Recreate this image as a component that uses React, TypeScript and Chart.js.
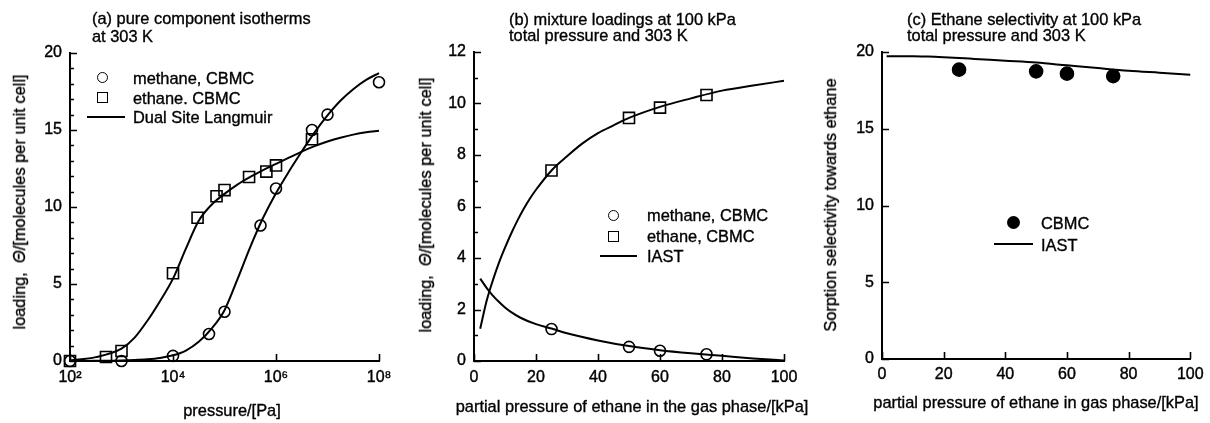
import React, { useEffect, useRef } from 'react';
import { Chart, registerables } from 'chart.js';

Chart.register(...registerables);

const FONT = '"Liberation Sans", Arial, Helvetica, sans-serif';

// ---------- Panel (a): pure component isotherms ----------
const aMethaneP = [1e2, 1e3, 1e4, 5e4, 1e5, 5e5, 1e6, 5e6, 1e7, 1e8];
const aMethaneQ = [0, 0, 0.33, 1.75, 3.2, 8.8, 11.2, 15.0, 16.0, 18.1];
const aEthaneP = [1e2, 5e2, 1e3, 1e4, 3e4, 7e4, 1e5, 3e5, 6.5e5, 1e6, 5e6];
const aEthaneQ = [0, 0.26, 0.65, 5.7, 9.3, 10.7, 11.1, 11.95, 12.3, 12.7, 14.4];
const aDslP = [1e2, 3.16e2, 1e3, 1.78e3, 3.16e3, 5.62e3, 1e4, 1.78e4, 3.16e4, 5.62e4, 1e5, 1.78e5, 3.16e5, 5.62e5, 1e6, 1.78e6, 3.16e6, 5.62e6, 1e7, 1.78e7, 3.16e7, 5.62e7, 1e8];
const aDslMethane = [0, 0.01, 0.03, 0.06, 0.11, 0.2, 0.37, 0.68, 1.25, 2.1, 3.3, 5.3, 7.4, 9.3, 10.9, 12.3, 13.6, 14.85, 15.95, 16.9, 17.65, 18.25, 18.7];
const aDslEthane = [0.03, 0.25, 0.8, 1.5, 2.6, 3.9, 5.35, 7.3, 9.1, 10.15, 10.85, 11.45, 11.95, 12.4, 12.8, 13.2, 13.6, 13.95, 14.25, 14.5, 14.7, 14.85, 14.95];
const aXTicks = [1e2, 1e4, 1e6, 1e8];
const aXLabels = ['10²', '10⁴', '10⁶', '10⁸'];
const aYMajor = [0, 5, 10, 15, 20];
const aYMinor = [1, 2, 3, 4, 6, 7, 8, 9, 11, 12, 13, 14, 16, 17, 18, 19];

// ---------- Panel (b): mixture loadings ----------
const bCbmcP = [25, 50, 60, 75];
const bCbmcEthane = [7.4, 9.44, 9.84, 10.33];
const bCbmcMethane = [1.24, 0.55, 0.4, 0.26];
const bIastEthaneP = [2, 4, 6, 8, 10, 12, 14, 16, 18, 20, 25, 30, 35, 40, 45, 50, 60, 70, 80, 90, 100];
const bIastEthane = [1.25, 2.3, 3.1, 3.8, 4.4, 4.95, 5.45, 5.9, 6.3, 6.65, 7.4, 7.95, 8.45, 8.85, 9.15, 9.44, 9.87, 10.2, 10.5, 10.7, 10.88];
const bIastMethaneP = [2, 4, 6, 8, 10, 12, 15, 20, 25, 30, 40, 50, 60, 70, 80, 90, 100];
const bIastMethane = [3.2, 2.85, 2.55, 2.3, 2.08, 1.9, 1.68, 1.43, 1.26, 1.08, 0.8, 0.58, 0.42, 0.3, 0.2, 0.1, 0.02];
const bXTicks = [0, 20, 40, 60, 80, 100];
const bYMajor = [0, 2, 4, 6, 8, 10, 12];
const bYMinor = [1, 3, 5, 7, 9, 11];

// ---------- Panel (c): ethane selectivity ----------
const cCbmcP = [25, 50, 60, 75];
const cCbmcSel = [18.85, 18.74, 18.59, 18.43];
const cIastP = [1.5, 5, 10, 15, 20, 25, 30, 40, 50, 60, 70, 80, 90, 100];
const cIastSel = [19.72, 19.73, 19.72, 19.7, 19.66, 19.61, 19.55, 19.43, 19.31, 19.13, 18.95, 18.78, 18.65, 18.52];
const cXTicks = [0, 20, 40, 60, 80, 100];
const cYMajor = [0, 5, 10, 15, 20];

const H = 423;
const TXT = 16.4;

const inwardTicks = {
  id: 'inwardTicks',
  afterDatasetsDraw(chart: any, _args: any, opts: any) {
    const { ctx, chartArea } = chart;
    const xs = chart.scales.x;
    const ys = chart.scales.y;
    ctx.save();
    ctx.strokeStyle = '#000';
    ctx.lineWidth = 1.6;
    ctx.beginPath();
    const xt = (vals: number[], len: number) => {
      (vals || []).forEach((v) => {
        const px = Math.round(xs.getPixelForValue(v)) + 0.5;
        ctx.moveTo(px, chartArea.bottom);
        ctx.lineTo(px, chartArea.bottom - len);
      });
    };
    const yt = (vals: number[], len: number) => {
      (vals || []).forEach((v) => {
        const py = Math.round(ys.getPixelForValue(v)) + 0.5;
        ctx.moveTo(chartArea.left, py);
        ctx.lineTo(chartArea.left + len, py);
      });
    };
    xt(opts.xMajor, 7);
    xt(opts.xMinor, 4);
    yt(opts.yMajor, 7);
    yt(opts.yMinor, 4);
    ctx.stroke();
    ctx.restore();
  },
};

const pairs = (xs: number[], ys: number[]) => xs.map((x, i) => ({ x, y: ys[i] }));

const markerSet = (label: string, xs: number[], ys: number[], style: string, radius: number, fill: string) => ({
  label,
  data: pairs(xs, ys),
  showLine: false,
  pointStyle: style,
  pointRadius: radius,
  pointHoverRadius: radius,
  pointBorderColor: '#000',
  pointBackgroundColor: fill,
  pointBorderWidth: 1.6,
  clip: false,
  order: 0,
});

const curveSet = (label: string, xs: number[], ys: number[]) => ({
  label,
  data: pairs(xs, ys),
  showLine: true,
  borderColor: '#000',
  borderWidth: 2,
  pointRadius: 0,
  pointHoverRadius: 0,
  cubicInterpolationMode: 'monotone',
  fill: false,
  clip: false,
  order: 1,
});

interface PanelSpec {
  canvasLeft: number;
  canvasWidth: number;
  plotLeft: number;
  plotTop: number;
  plotRight: number;
  plotBottom: number;
  xLog: boolean;
  xMin: number;
  xMax: number;
  xTicks: number[];
  xLabels?: string[];
  yMin: number;
  yMax: number;
  yTicks: number[];
  xTickPad: number;
  tickMarks: any;
  datasets: any[];
}

function buildConfig(s: PanelSpec): any {
  const font = { family: FONT, size: 16 };
  const tickText = { color: '#000', font, textStrokeColor: '#000', textStrokeWidth: 0.4 };
  return {
    type: 'scatter',
    data: { datasets: s.datasets },
    options: {
      responsive: false,
      animation: false,
      events: [],
      layout: {
        padding: {
          left: 0,
          top: s.plotTop,
          right: s.canvasLeft + s.canvasWidth - s.plotRight,
          bottom: 0,
        },
      },
      plugins: {
        legend: { display: false },
        title: { display: false },
        tooltip: { enabled: false },
        inwardTicks: s.tickMarks,
      },
      scales: {
        x: {
          type: s.xLog ? 'logarithmic' : 'linear',
          position: 'bottom',
          min: s.xMin,
          max: s.xMax,
          grid: { display: false, drawTicks: false },
          border: { display: true, color: '#000', width: 2 },
          ticks: {
            ...tickText,
            padding: s.xTickPad,
            maxRotation: 0,
            autoSkip: false,
            callback: (v: any) => {
              const i = s.xTicks.indexOf(Number(v));
              if (s.xLabels) return i >= 0 ? s.xLabels[i] : '';
              return String(v);
            },
          },
          afterBuildTicks: (sc: any) => {
            sc.ticks = s.xTicks.map((v) => ({ value: v }));
          },
          afterFit: (sc: any) => {
            sc.height = H - s.plotBottom;
          },
          title: { display: false },
        },
        y: {
          type: 'linear',
          position: 'left',
          min: s.yMin,
          max: s.yMax,
          grid: { display: false, drawTicks: false },
          border: { display: true, color: '#000', width: 2 },
          ticks: {
            ...tickText,
            padding: 8,
            autoSkip: false,
            callback: (v: any) => String(v),
          },
          afterBuildTicks: (sc: any) => {
            sc.ticks = s.yTicks.map((v) => ({ value: v }));
          },
          afterFit: (sc: any) => {
            sc.width = s.plotLeft - s.canvasLeft;
          },
          title: { display: false },
        },
      },
    },
    plugins: [inwardTicks],
  };
}

function Panel({ spec }: { spec: PanelSpec }) {
  const ref = useRef<HTMLCanvasElement>(null);
  useEffect(() => {
    const chart = new Chart(ref.current as HTMLCanvasElement, buildConfig(spec));
    return () => chart.destroy();
  }, []);
  return (
    <canvas
      ref={ref}
      width={spec.canvasWidth}
      height={H}
      style={{ position: 'absolute', left: spec.canvasLeft, top: 0, width: spec.canvasWidth, height: H }}
    />
  );
}

const panelA: PanelSpec = {
  canvasLeft: 0,
  canvasWidth: 400,
  plotLeft: 70,
  plotTop: 53,
  plotRight: 379,
  plotBottom: 361,
  xLog: true,
  xMin: 1e2,
  xMax: 1e8,
  xTicks: aXTicks,
  xLabels: aXLabels,
  yMin: 0,
  yMax: 20,
  yTicks: aYMajor,
  xTickPad: 7,
  tickMarks: { xMajor: aXTicks, xMinor: [], yMajor: aYMajor, yMinor: aYMinor },
  datasets: [
    curveSet('DSL methane', aDslP, aDslMethane),
    curveSet('DSL ethane', aDslP, aDslEthane),
    markerSet('methane, CBMC', aMethaneP, aMethaneQ, 'circle', 5.5, 'rgba(0,0,0,0)'),
    markerSet('ethane. CBMC', aEthaneP, aEthaneQ, 'rect', 7.8, 'rgba(0,0,0,0)'),
  ],
};

const panelB: PanelSpec = {
  canvasLeft: 400,
  canvasWidth: 420,
  plotLeft: 474,
  plotTop: 52,
  plotRight: 784,
  plotBottom: 361,
  xLog: false,
  xMin: 0,
  xMax: 100,
  xTicks: bXTicks,
  yMin: 0,
  yMax: 12,
  yTicks: bYMajor,
  xTickPad: 7,
  tickMarks: { xMajor: bXTicks, xMinor: [], yMajor: bYMajor, yMinor: bYMinor },
  datasets: [
    curveSet('IAST ethane', bIastEthaneP, bIastEthane),
    curveSet('IAST methane', bIastMethaneP, bIastMethane),
    markerSet('methane, CBMC', bCbmcP, bCbmcMethane, 'circle', 5.5, 'rgba(0,0,0,0)'),
    markerSet('ethane, CBMC', bCbmcP, bCbmcEthane, 'rect', 7.8, 'rgba(0,0,0,0)'),
  ],
};

const panelC: PanelSpec = {
  canvasLeft: 820,
  canvasWidth: 390,
  plotLeft: 882,
  plotTop: 52,
  plotRight: 1195,
  plotBottom: 359,
  xLog: false,
  xMin: 0,
  xMax: 100,
  xTicks: cXTicks,
  yMin: 0,
  yMax: 20,
  yTicks: cYMajor,
  xTickPad: 6.4,
  tickMarks: { xMajor: cXTicks, xMinor: [], yMajor: cYMajor, yMinor: [] },
  datasets: [
    curveSet('IAST', cIastP, cIastSel),
    markerSet('CBMC', cCbmcP, cCbmcSel, 'circle', 6.5, '#000'),
  ],
};

const textStyle: React.CSSProperties = {
  position: 'absolute',
  fontFamily: FONT,
  fontSize: TXT,
  color: '#000',
  whiteSpace: 'nowrap',
  WebkitTextStroke: '0.35px #000',
};

function Title({ left, top, lh, lines }: { left: number; top: number; lh: number; lines: string[] }) {
  return (
    <div style={{ ...textStyle, left, top, lineHeight: `${lh}px` }}>
      {lines.map((l, i) => (
        <div key={i}>{l}</div>
      ))}
    </div>
  );
}

function AxisTitle({ cx, cy, vertical, children }: { cx: number; cy: number; vertical?: boolean; children: React.ReactNode }) {
  return (
    <div
      style={{
        ...textStyle,
        left: cx,
        top: cy,
        lineHeight: '20px',
        transform: `translate(-50%, -50%)${vertical ? ' rotate(-90deg)' : ''}`,
      }}
    >
      {children}
    </div>
  );
}

type Marker = 'circle' | 'square' | 'line' | 'dot';

function LegendRow({ mx, cy, tx, kind, text }: { mx: number; cy: number; tx: number; kind: Marker; text: string }) {
  let marker: React.ReactNode = null;
  if (kind === 'circle') {
    marker = <div style={{ position: 'absolute', left: mx - 5.5, top: cy - 5.5, width: 11, height: 11, border: '1.6px solid #000', borderRadius: '50%', boxSizing: 'border-box' }} />;
  } else if (kind === 'square') {
    marker = <div style={{ position: 'absolute', left: mx - 5.5, top: cy - 5.5, width: 11, height: 11, border: '1.6px solid #000', boxSizing: 'border-box' }} />;
  } else if (kind === 'dot') {
    marker = <div style={{ position: 'absolute', left: mx - 6.5, top: cy - 6.5, width: 13, height: 13, background: '#000', borderRadius: '50%' }} />;
  }
  return (
    <>
      {marker}
      <div style={{ ...textStyle, left: tx, top: cy - 10, lineHeight: '20px' }}>{text}</div>
    </>
  );
}

function LegendLine({ x1, x2, cy }: { x1: number; x2: number; cy: number }) {
  return <div style={{ position: 'absolute', left: x1, top: cy - 1, width: x2 - x1, height: 2, background: '#000' }} />;
}

export default function App() {
  return (
    <div style={{ position: 'absolute', left: 0, top: 0, width: 1210, height: H, background: '#fff', overflow: 'hidden' }}>
      <Panel spec={panelA} />
      <Panel spec={panelB} />
      <Panel spec={panelC} />

      <Title left={92} top={10.2} lh={17.6} lines={['(a) pure component isotherms', 'at 303 K']} />
      <Title left={509} top={11.2} lh={16} lines={['(b) mixture loadings at 100 kPa', 'total pressure and 303 K']} />
      <Title left={907} top={10.6} lh={16} lines={['(c) Ethane selectivity at 100 kPa', 'total pressure and 303 K']} />

      <AxisTitle cx={19} cy={202} vertical>
        loading,&nbsp; <i>Θ</i>/[molecules per unit cell]
      </AxisTitle>
      <AxisTitle cx={232} cy={410}>pressure/[Pa]</AxisTitle>

      <AxisTitle cx={425} cy={205} vertical>
        loading,&nbsp; <i>Θ</i>/[molecules per unit cell]
      </AxisTitle>
      <AxisTitle cx={632} cy={406}>partial pressure of ethane in the gas phase/[kPa]</AxisTitle>

      <AxisTitle cx={830} cy={205} vertical>
        Sorption selectivity towards ethane
      </AxisTitle>
      <AxisTitle cx={1036} cy={402}>partial pressure of ethane in gas phase/[kPa]</AxisTitle>

      <LegendRow mx={102} cy={77.7} tx={133} kind="circle" text="methane, CBMC" />
      <LegendRow mx={102} cy={97.5} tx={133} kind="square" text="ethane. CBMC" />
      <LegendLine x1={87} x2={125} cy={116.7} />
      <LegendRow mx={102} cy={117} tx={133} kind="line" text="Dual Site Langmuir" />

      <LegendRow mx={613} cy={215} tx={647} kind="circle" text="methane, CBMC" />
      <LegendRow mx={613} cy={236} tx={647} kind="square" text="ethane, CBMC" />
      <LegendLine x1={600} x2={637} cy={256} />
      <LegendRow mx={613} cy={256} tx={647} kind="line" text="IAST" />

      <LegendRow mx={1013} cy={222.7} tx={1041} kind="dot" text="CBMC" />
      <LegendLine x1={994} x2={1033} cy={244} />
      <LegendRow mx={1013} cy={245} tx={1041} kind="line" text="IAST" />
    </div>
  );
}
